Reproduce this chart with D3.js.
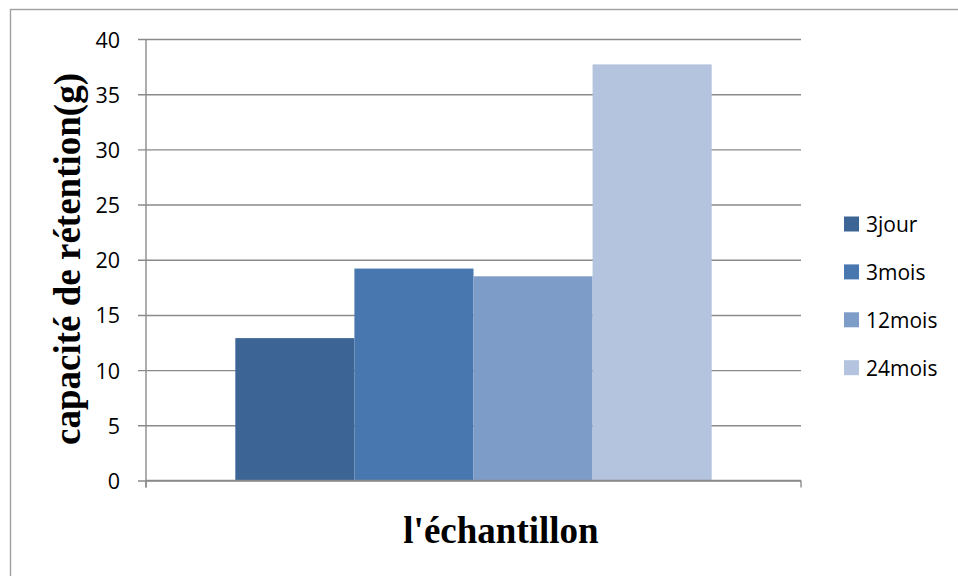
<!DOCTYPE html>
<html>
<head>
<meta charset="utf-8">
<script src="https://cdn.jsdelivr.net/npm/d3@7"></script>
<style>
  html, body { margin: 0; padding: 0; background: #fff; }
  svg { display: block; }
</style>
</head>
<body>
<svg id="chart" width="958" height="576"></svg>
<script>
// Water retention capacity by sample age
const categories = [""];
const series = ["3jour", "3mois", "12mois", "24mois"];
const values = [12.9, 19.2, 18.5, 37.7];
const colors = ["#3c6495", "#4877b0", "#7e9cc8", "#b4c3de"];
const yTicks = [0, 5, 10, 15, 20, 25, 30, 35, 40];
const yTitle = "capacité de rétention(g)";
const xTitle = "l'échantillon";

const svg = d3.select("#chart");
const plot = { left: 146, right: 801, top: 39, bottom: 480.5 };
const gridColor = "#8a8a8a";
const sansFont = "'Open Sans', 'Liberation Sans', sans-serif";
const serifFont = "'Liberation Serif', 'Times New Roman', serif";

// Outer chart frame
svg.append("rect")
  .attr("x", 10.5).attr("y", 9.5)
  .attr("width", 1000).attr("height", 600)
  .attr("fill", "none").attr("stroke", "#a0a0a0").attr("stroke-width", 1.4);

const y = d3.scaleLinear().domain([0, 40]).range([plot.bottom, plot.top]);

const x0 = d3.scaleBand()
  .domain(categories)
  .range([plot.left, plot.right])
  .paddingInner(0)
  .paddingOuter(0.1875);

const x1 = d3.scaleBand()
  .domain(series)
  .range([0, x0.bandwidth()])
  .padding(0);

// Horizontal gridlines with small ticks on the left of the value axis
const yAxis = d3.axisLeft(y)
  .tickValues(yTicks)
  .tickSize(-(plot.right - plot.left))
  .tickPadding(0)
  .tickFormat("");

const gy = svg.append("g")
  .attr("transform", `translate(${plot.left},0)`)
  .call(yAxis);
gy.select(".domain").remove();
gy.selectAll(".tick line")
  .attr("x1", -8)
  .attr("stroke", gridColor)
  .attr("stroke-width", 1.4);

// Value labels
svg.append("g").selectAll("text")
  .data(yTicks)
  .join("text")
  .attr("x", 120)
  .attr("y", d => y(d))
  .attr("text-anchor", "end")
  .attr("dominant-baseline", "central")
  .attr("font-family", sansFont)
  .attr("font-size", 21.5)
  .attr("fill", "#000")
  .text(d => d);

// Bars
const group = svg.append("g")
  .selectAll("g")
  .data(categories)
  .join("g")
  .attr("transform", d => `translate(${x0(d)},0)`);

group.selectAll("rect")
  .data(() => series.map((s, i) => ({ s, v: values[i], c: colors[i] })))
  .join("rect")
  .attr("x", d => x1(d.s))
  .attr("y", d => y(d.v))
  .attr("width", x1.bandwidth())
  .attr("height", d => y(0) - y(d.v))
  .attr("fill", d => d.c);

// Value axis line
svg.append("line")
  .attr("x1", plot.left).attr("x2", plot.left)
  .attr("y1", plot.top).attr("y2", plot.bottom + 7)
  .attr("stroke", gridColor).attr("stroke-width", 1.4);

// Category axis line with boundary ticks
svg.append("line")
  .attr("x1", plot.left).attr("x2", plot.right)
  .attr("y1", plot.bottom).attr("y2", plot.bottom)
  .attr("stroke", gridColor).attr("stroke-width", 1.4);
svg.append("g").selectAll("line")
  .data(x0.range())
  .join("line")
  .attr("x1", d => d).attr("x2", d => d)
  .attr("y1", plot.bottom).attr("y2", plot.bottom + 7)
  .attr("stroke", gridColor).attr("stroke-width", 1.4);

// Axis titles
svg.append("text")
  .attr("transform", "translate(80,259) rotate(-90)")
  .attr("text-anchor", "middle")
  .attr("font-family", serifFont)
  .attr("font-weight", "bold")
  .attr("font-size", 37)
  .attr("fill", "#000")
  .text(yTitle);

svg.append("text")
  .attr("x", 501)
  .attr("y", 543)
  .attr("text-anchor", "middle")
  .attr("font-family", serifFont)
  .attr("font-weight", "bold")
  .attr("font-size", 37)
  .attr("fill", "#000")
  .text(xTitle);

// Legend
const legend = svg.append("g")
  .selectAll("g")
  .data(series)
  .join("g")
  .attr("transform", (d, i) => `translate(844,${224 + i * 47.9})`);

legend.append("rect")
  .attr("x", 0).attr("y", -7.5)
  .attr("width", 15).attr("height", 15)
  .attr("fill", (d, i) => colors[i]);

legend.append("text")
  .attr("x", 22)
  .attr("y", 0)
  .attr("dominant-baseline", "central")
  .attr("font-family", sansFont)
  .attr("font-size", 21)
  .attr("fill", "#000")
  .text(d => d);
</script>
</body>
</html>
